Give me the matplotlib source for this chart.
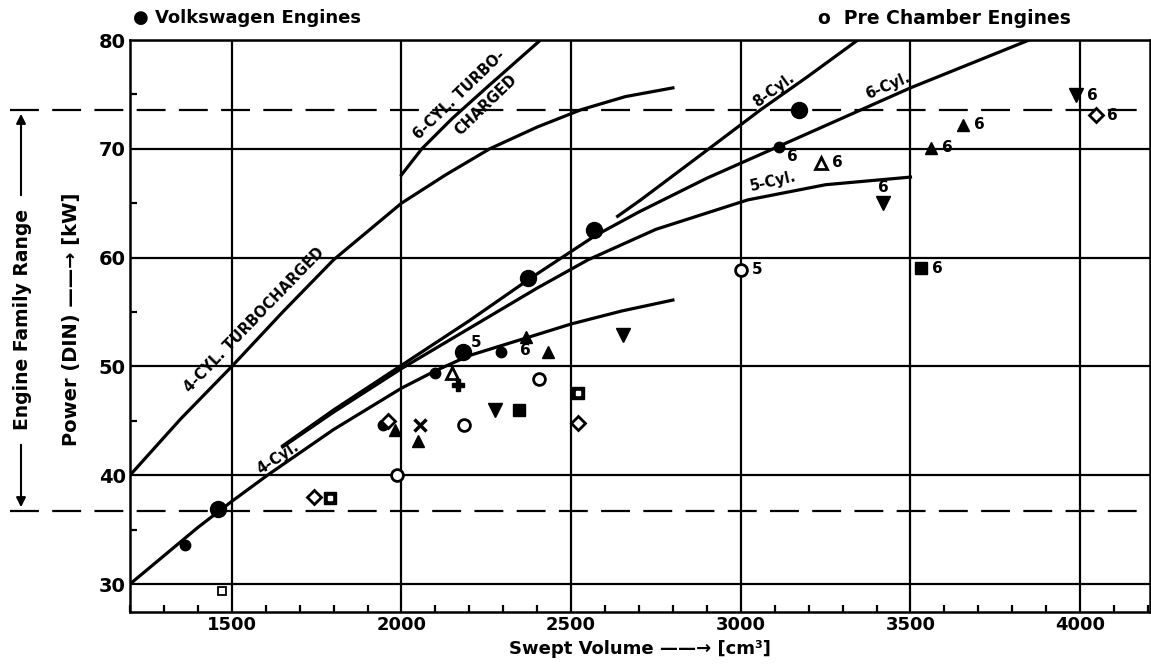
import numpy as np
import matplotlib.pyplot as plt
from matplotlib.ticker import MultipleLocator

plt.rcParams['font.family'] = ['DejaVu Sans']

# ---- curves (swept volume cm3, power kW)
turbo4_x = [1200, 1350, 1500, 1650, 1800, 2000, 2130, 2260, 2400, 2530, 2660, 2800]
turbo4_y = [40.0, 45.2, 50.0, 55.0, 59.8, 65.0, 67.6, 70.0, 72.0, 73.6, 74.8, 75.6]

turbo6_x = [2000, 2060, 2150, 2250, 2410]
turbo6_y = [67.6, 70.0, 72.8, 75.6, 80.0]

cyl4_x = [1200, 1300, 1400, 1500, 1605, 1800, 2000, 2100, 2200, 2366, 2500, 2650, 2800]
cyl4_y = [30.0, 32.6, 35.2, 37.6, 40.0, 44.2, 48.0, 49.6, 51.0, 52.6, 53.9, 55.1, 56.1]

cyl5_x = [1650, 1800, 2000, 2200, 2400, 2550, 2750, 3020, 3250, 3500]
cyl5_y = [42.6, 45.8, 49.8, 53.5, 57.2, 59.8, 62.6, 65.3, 66.7, 67.4]

cyl6_x = [1650, 1800, 2000, 2200, 2380, 2570, 2700, 2900, 3110, 3500, 3850]
cyl6_y = [42.7, 46.0, 50.1, 54.2, 58.1, 62.0, 64.2, 67.3, 70.2, 75.6, 80.0]

cyl8_x = [2637, 2705, 2906, 3059, 3200, 3345]
cyl8_y = [63.8, 65.3, 70.0, 73.6, 76.7, 80.0]

# engine family range limits
range_hi = 73.6
range_lo = 36.7

# ---- engine points
vw_x = [1363, 1460, 1945, 2100, 2180, 2292, 2372, 2566, 3112, 3171]
vw_y = [33.6, 36.9, 44.6, 49.4, 51.3, 51.3, 58.1, 62.5, 70.2, 73.6]
vw_big = [False, True, False, False, True, False, True, True, False, True]

ocirc_x = [1988, 2183, 2404, 3000]
ocirc_y = [40.0, 44.6, 48.8, 58.9]

ftri_x = [1982, 2050, 2366, 2431, 3560, 3655]
ftri_y = [44.2, 43.1, 52.7, 51.3, 70.1, 72.2]

otri_x = [2150, 3236]
otri_y = [49.4, 68.7]

dtri_x = [2277, 2652, 3420, 3988]
dtri_y = [46.0, 52.9, 65.0, 74.9]

fsq_x = [2345, 3531]
fsq_y = [46.0, 59.0]

odia_x = [1742, 1960, 2519, 4047]
odia_y = [38.0, 45.0, 44.8, 73.1]

dotsq_x = [1790, 2519]
dotsq_y = [37.9, 47.6]

osq_x = [1471]
osq_y = [29.4]

cross_x = [2056]
cross_y = [44.6]

plus_x = [2168]
plus_y = [48.3]

# cylinder count labels: (x, y, text, side)
cyl_labels = [(3112, 70.2, '6', 'below-right'), (3236, 68.7, '6', 'right'),
              (3560, 70.1, '6', 'right'), (3655, 72.2, '6', 'right'),
              (3988, 74.9, '6', 'right'), (4047, 73.1, '6', 'right'),
              (3531, 59.0, '6', 'right'), (3420, 65.0, '6', 'above'),
              (3000, 58.9, '5', 'right'), (2180, 51.3, '5', 'above-right'),
              (2366, 52.7, '6', 'below')]

fig = plt.figure(figsize=(11.51, 6.64), dpi=100)
ax = fig.add_axes([130/1151, 52/664, 1020/1151, 572/664])

ax.set_xlim(1200, 4206)
ax.set_ylim(27.43, 80)

ax.xaxis.set_major_locator(MultipleLocator(500))
ax.xaxis.set_minor_locator(MultipleLocator(100))
ax.yaxis.set_major_locator(MultipleLocator(10))
ax.yaxis.set_minor_locator(MultipleLocator(5))
ax.set_xticks([1500, 2000, 2500, 3000, 3500, 4000])
ax.set_yticks([30, 40, 50, 60, 70, 80])
ax.grid(True, which='major', color='black', lw=1.6)
ax.tick_params(which='major', direction='in', length=0, labelsize=14, pad=3)
ax.tick_params(which='minor', direction='in', length=5, width=1.6)
ax.tick_params(axis='x', labelsize=13)
for lab in ax.get_xticklabels() + ax.get_yticklabels():
    lab.set_fontweight('bold')
for s in ax.spines.values():
    s.set_linewidth(1.8)

# family range dashed lines, reaching out past the axis
for yv in (range_hi, range_lo):
    ax.axhline(yv, xmin=-0.118, xmax=1, color='black', lw=1.6,
               dashes=(13, 6), clip_on=False)

lw = 2.3
ax.plot(turbo4_x, turbo4_y, color='black', lw=lw)
ax.plot(turbo6_x, turbo6_y, color='black', lw=lw)
ax.plot(cyl4_x, cyl4_y, color='black', lw=lw)
ax.plot(cyl5_x, cyl5_y, color='black', lw=lw)
ax.plot(cyl6_x, cyl6_y, color='black', lw=lw)
ax.plot(cyl8_x, cyl8_y, color='black', lw=lw)

# curve labels
kw = dict(fontsize=10.5, fontweight='bold', ha='center', va='center', rotation_mode='anchor')
ax.text(1565, 54.3, '4-CYL. TURBOCHARGED', rotation=46, **kw)
ax.text(2170, 75.0, '6-CYL. TURBO-', rotation=44, **kw)
ax.text(2250, 74.0, 'CHARGED', rotation=44, **kw)
ax.text(3097, 75.4, '8-Cyl.', rotation=36, **kw)
ax.text(3434, 75.8, '6-Cyl.', rotation=23, **kw)
ax.text(3094, 67.0, '5-Cyl.', rotation=13, **kw)
ax.text(1637, 41.6, '4-Cyl.', rotation=33, **kw)

# markers
for x, y, big in zip(vw_x, vw_y, vw_big):
    ax.plot(x, y, 'o', color='black', ms=11.5 if big else 7.5, zorder=5)
ax.plot(ocirc_x, ocirc_y, 'o', mfc='white', mec='black', mew=2, ms=8.5, ls='none', zorder=5)
ax.plot(ftri_x, ftri_y, '^', color='black', ms=9, ls='none', zorder=5)
ax.plot(otri_x, otri_y, '^', mfc='white', mec='black', mew=2, ms=9, ls='none', zorder=5)
ax.plot(dtri_x, dtri_y, 'v', color='black', ms=10, ls='none', zorder=5)
ax.plot(fsq_x, fsq_y, 's', color='black', ms=8, ls='none', zorder=5)
ax.plot(odia_x, odia_y, 'D', mfc='white', mec='black', mew=2, ms=7, ls='none', zorder=5)
ax.plot(dotsq_x, dotsq_y, 's', color='black', ms=8, ls='none', zorder=5)
ax.plot(dotsq_x, dotsq_y, 's', color='white', ms=2.5, ls='none', zorder=6)
ax.plot(osq_x, osq_y, 's', mfc='white', mec='black', mew=1.3, ms=6, ls='none', zorder=5)
ax.plot(cross_x, cross_y, 'x', color='black', mew=2.5, ms=8, ls='none', zorder=5)
ax.plot(plus_x, plus_y, 'P', color='black', ms=8, ls='none', zorder=5)

offsets = {'right': (8, 0, 'left', 'center'), 'below-right': (6, -7, 'left', 'center'),
           'above': (0, 11, 'center', 'center'), 'below': (0, -10, 'center', 'center'),
           'above-right': (6, 7, 'left', 'center')}
for x, y, t, side in cyl_labels:
    dx, dy, ha, va = offsets[side]
    ax.annotate(t, (x, y), xytext=(dx, dy), textcoords='offset points',
                ha=ha, va=va, fontsize=11, fontweight='bold', zorder=7)

ax.set_xlabel('Swept Volume \u2014\u2014\u2192 [cm\u00b3]', fontsize=13, fontweight='bold', labelpad=4)
fig.text(72/1151, 1 - 319/664, 'Power (DIN) \u2014\u2014\u2192 [kW]', rotation=90,
         fontsize=14, fontweight='bold', ha='center', va='center')

# engine family range arrow
fig.text(23/1151, 1 - 319/664, 'Engine Family Range', rotation=90,
         fontsize=13.5, fontweight='bold', ha='center', va='center')
arr = dict(arrowstyle='-|>', color='black', lw=1.5, mutation_scale=14)
ax.annotate('', xy=(21/1151, 1 - 111/664), xytext=(21/1151, 1 - 198/664),
            xycoords='figure fraction', textcoords='figure fraction', arrowprops=arr)
ax.annotate('', xy=(21/1151, 1 - 510/664), xytext=(21/1151, 1 - 442/664),
            xycoords='figure fraction', textcoords='figure fraction', arrowprops=arr)

# header legend
fig.text(133/1151, 1 - 18/664, '\u25cf Volkswagen Engines', fontsize=13, fontweight='bold',
         ha='left', va='center')
fig.text(818/1151, 1 - 18/664, 'o  Pre Chamber Engines', fontsize=13.5, fontweight='bold',
         ha='left', va='center')

fig.savefig('out.png', dpi=100)
